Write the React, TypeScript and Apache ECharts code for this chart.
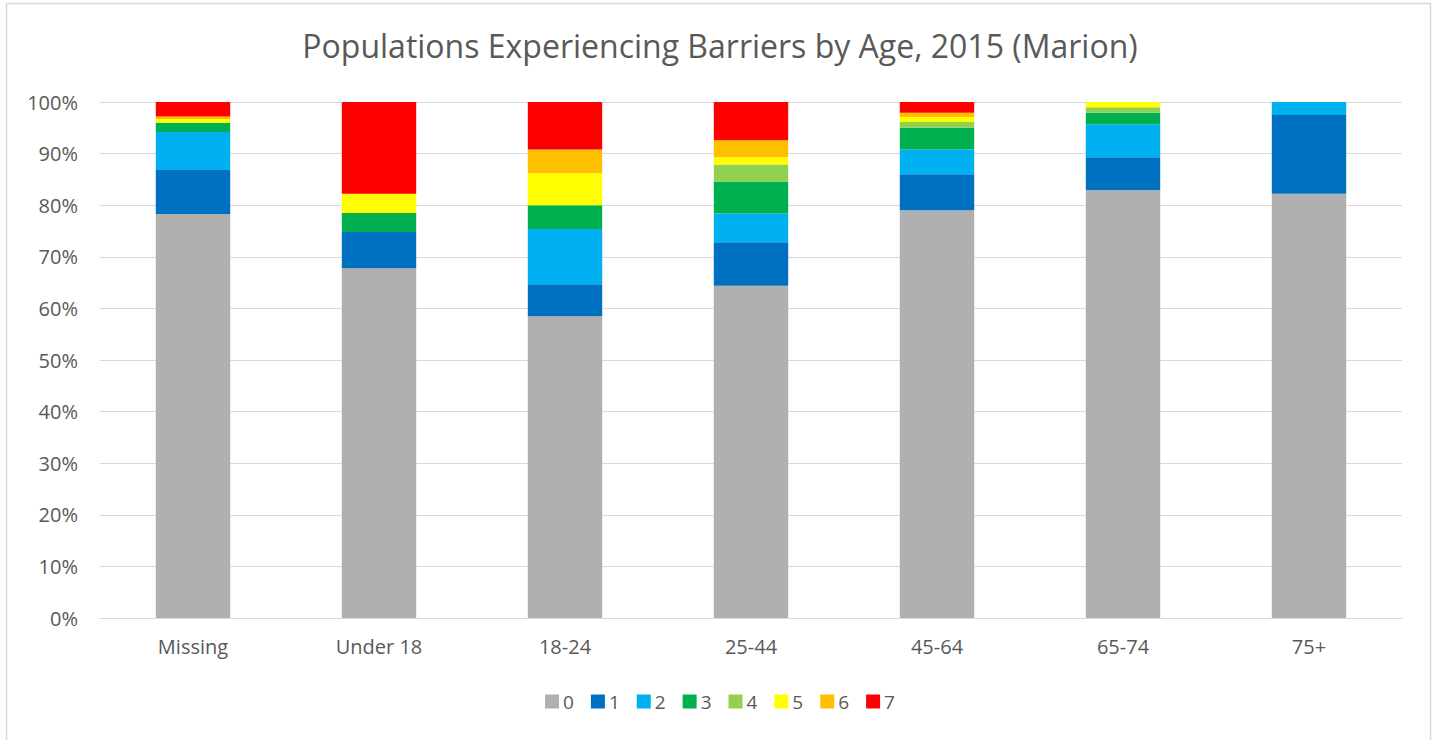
import React, { useEffect, useRef } from "react";
import * as echarts from "echarts";

const categories = ["Missing", "Under 18", "18-24", "25-44", "45-64", "65-74", "75+"];
const seriesNames = ["0", "1", "2", "3", "4", "5", "6", "7"];
const colors = ["#B0B0B0", "#0070C0", "#00B0F0", "#00B050", "#92D050", "#FFFF00", "#FFC000", "#FF0000"];

const v0 = [78.3, 67.8, 58.5, 64.4, 79.0, 82.9, 82.2];
const v1 = [8.5, 7.0, 6.2, 8.4, 7.0, 6.4, 15.3];
const v2 = [7.4, 0.0, 10.7, 5.6, 4.8, 6.4, 2.5];
const v3 = [1.8, 3.7, 4.6, 6.2, 4.2, 2.2, 0.0];
const v4 = [0.0, 0.0, 0.0, 3.3, 1.1, 1.1, 0.0];
const v5 = [0.7, 3.7, 6.2, 1.4, 1.0, 1.0, 0.0];
const v6 = [0.5, 0.0, 4.6, 3.3, 0.8, 0.0, 0.0];
const v7 = [2.8, 17.8, 9.2, 7.4, 2.1, 0.0, 0.0];

const yTicks = [0, 10, 20, 30, 40, 50, 60, 70, 80, 90, 100];

const FONT = "Open Sans";

export default function App() {
  const ref = useRef<HTMLDivElement>(null);
  useEffect(() => {
    if (!ref.current) return;
    const chart = echarts.init(ref.current, null, { renderer: "svg" });
    const all = [v0, v1, v2, v3, v4, v5, v6, v7];
    chart.setOption({
      animation: false,
      backgroundColor: "#FFFFFF",
      textStyle: { fontFamily: FONT },
      title: {
        text: "Populations Experiencing Barriers by Age, 2015 (Marion)",
        left: "center",
        top: 24,
        textStyle: { fontFamily: FONT, fontSize: 32, fontWeight: "normal", color: "#595959" },
      },
      legend: {
        bottom: 24,
        left: "center",
        itemWidth: 14,
        itemHeight: 14,
        itemGap: 17,
        icon: "rect",
        textStyle: { fontFamily: FONT, fontSize: 19, color: "#595959", padding: [0, 0, 0, -1] },
        data: seriesNames,
      },
      grid: { left: 100, right: 38, top: 102, bottom: 122, containLabel: false },
      xAxis: {
        type: "category",
        data: categories,
        axisLine: { show: true, lineStyle: { color: "#D9D9D9", width: 1 } },
        axisTick: { show: false },
        axisLabel: { fontFamily: FONT, fontSize: 20, color: "#595959", margin: 18 },
      },
      yAxis: {
        type: "value",
        min: 0,
        max: 100,
        interval: 10,
        axisLine: { show: false },
        axisTick: { show: false },
        splitLine: { lineStyle: { color: "#D9D9D9", width: 1 } },
        axisLabel: {
          fontFamily: FONT,
          fontSize: 20,
          color: "#595959",
          margin: 22,
          formatter: (v: number) => (yTicks.includes(v) ? v + "%" : ""),
        },
      },
      series: seriesNames.map((name, i) => ({
        name,
        type: "bar",
        stack: "total",
        barWidth: "40%",
        itemStyle: { color: colors[i] },
        data: all[i],
      })),
      graphic: [
        {
          type: "rect",
          shape: { x: 6.5, y: 3.5, width: 1424, height: 745 },
          style: { fill: "none", stroke: "#D9D9D9", lineWidth: 1.5 },
          silent: true,
        },
      ],
    });
    return () => chart.dispose();
  }, []);
  return (
    <div style={{ position: "absolute", left: 0, top: 0, width: 1440, height: 740, background: "#fff" }}>
      <div ref={ref} style={{ width: 1440, height: 740 }} />
    </div>
  );
}
